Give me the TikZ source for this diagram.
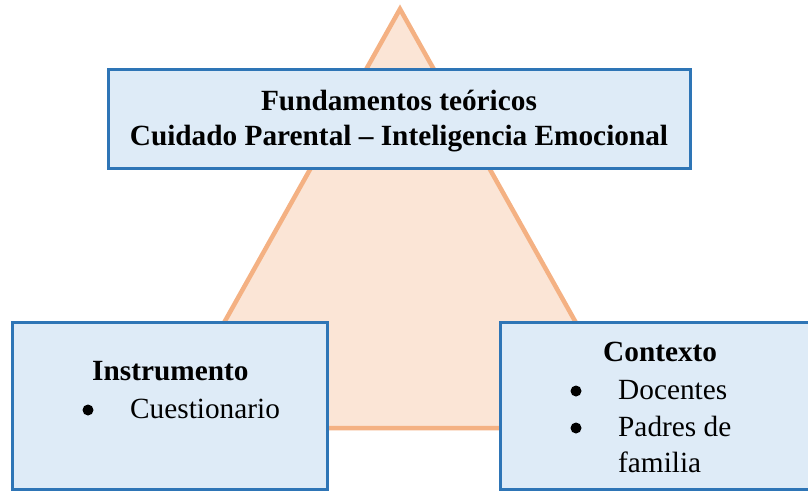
\documentclass[tikz,border=0pt]{standalone}
\usepackage{fontspec}
\setmainfont{Liberation Serif}
\definecolor{triline}{HTML}{F4B183}
\definecolor{trifill}{HTML}{FBE5D6}
\definecolor{boxline}{HTML}{2E75B6}
\definecolor{boxfill}{HTML}{DEEBF7}
\tikzset{
  panel/.style={draw=boxline, fill=boxfill, line width=3pt},
  txt/.style={anchor=base west, inner sep=0pt, font=\fontsize{29.3}{35}\selectfont},
  btxt/.style={txt, font=\fontsize{29.3}{35}\selectfont\bfseries},
  ctxt/.style={anchor=base, inner sep=0pt, font=\fontsize{29.3}{35}\selectfont\bfseries},
  dot/.style={circle, fill=black, inner sep=0pt, minimum size=11pt},
}
\begin{document}
\begin{tikzpicture}[x=1pt,y=-1pt]
\clip (0,0) rectangle (808,491);
\useasboundingbox (0,0) rectangle (808,491);
% triangle
\coordinate (apex) at (400,9);
\coordinate (bl) at (165,428);
\coordinate (br) at (635,428);
\draw[draw=triline, fill=trifill, line width=4.5pt, line join=miter] (apex) -- (br) -- (bl) -- cycle;
% boxes
\draw[panel] (108,69) rectangle (690,168);
\node[ctxt] (t1) at (399,110) {Fundamentos teóricos};
\node[ctxt] (t2) at (399,145) {Cuidado Parental – Inteligencia Emocional};
\draw[panel] (12.5,322.5) rectangle (327.5,489);
\node[btxt] (i1) at (92,380) {Instrumento};
\node[dot] (ib) at (88,410) {};
\node[txt] (i2) at (130,418) {Cuestionario};
\draw[panel] (500,322) rectangle (820,489);
\node[btxt] (c1) at (603,361) {Contexto};
\node[dot] (cb1) at (576,391) {};
\node[txt] (c2) at (618,399) {Docentes};
\node[dot] (cb2) at (576,428) {};
\node[txt] (c3) at (618,436) {Padres de};
\node[txt] (c4) at (618,472) {familia};
\end{tikzpicture}
\end{document}
